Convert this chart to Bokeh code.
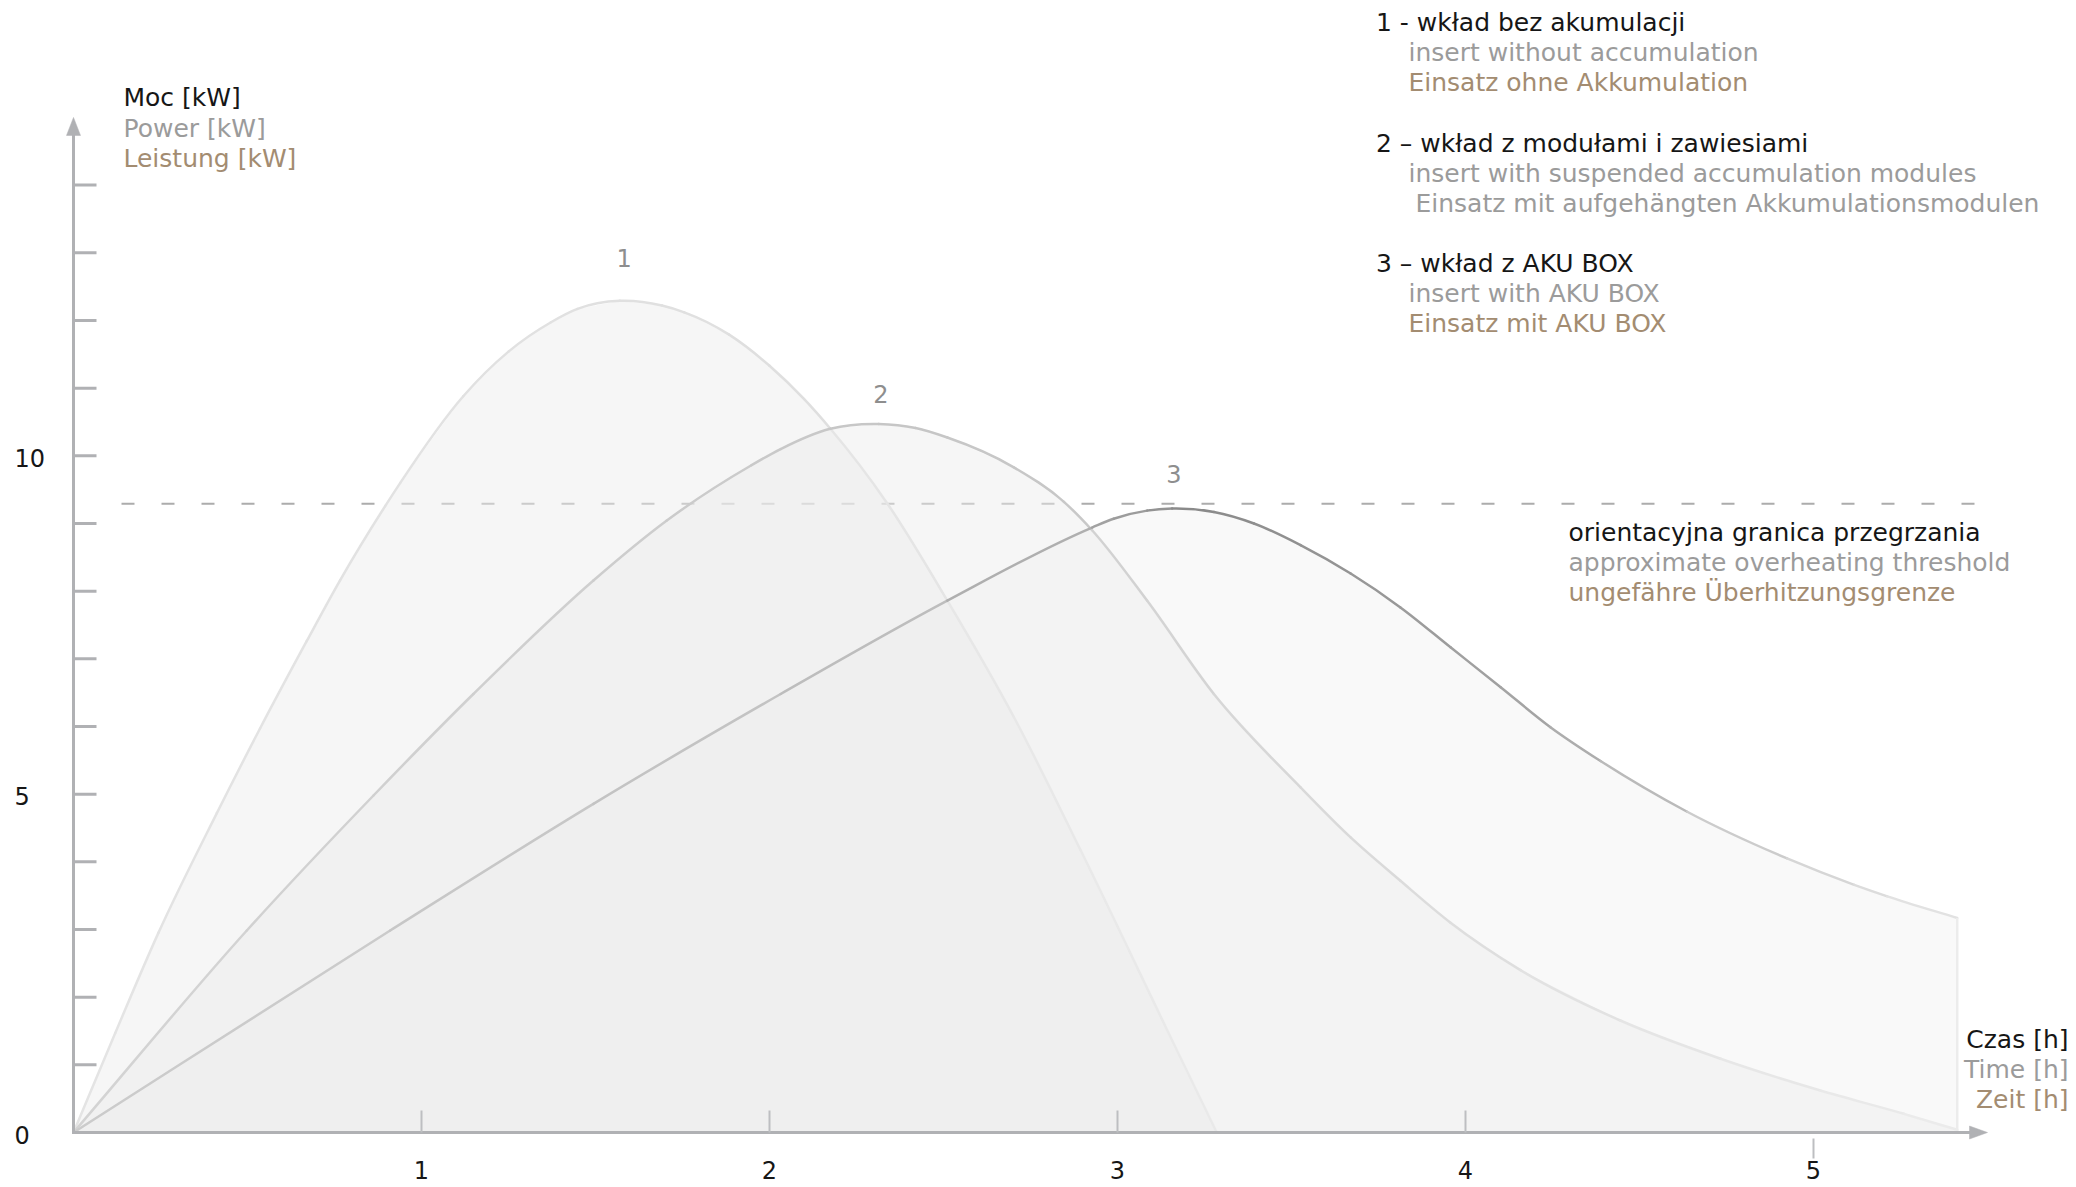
import numpy as np
from bokeh.plotting import figure
from bokeh.models import Range1d, ColumnDataSource
from bokeh.core.properties import value
from bokeh.embed import file_html
from bokeh.resources import INLINE

# ---------------- data ----------------
# 1 - insert without accumulation
time_1 = [0, 0.12, 0.244, 0.412, 0.536, 0.670, 0.766, 0.896, 0.939, 1.12, 1.25, 1.371,
          1.448, 1.570, 1.691, 1.755, 1.884, 2.0, 2.099, 2.175, 2.338, 2.511, 2.702,
          2.894, 3.157, 3.285]
power_1 = [0, 1.47, 2.95, 4.72, 5.97, 7.26, 8.16, 9.26, 9.6, 10.88, 11.54, 11.97,
           12.17, 12.29, 12.22, 12.12, 11.79, 11.33, 10.84, 10.40, 9.30, 7.86, 6.14,
           4.17, 1.36, 0]
# 2 - insert with suspended accumulation modules
time_2 = [0, 0.498, 0.862, 1.149, 1.494, 1.704, 1.948, 2.032, 2.175, 2.314, 2.42, 2.511,
          2.702, 2.846, 2.927, 3.085, 3.277, 3.526, 3.670, 3.813, 3.957, 4.158, 4.445,
          4.733, 5.020, 5.26, 5.413]
power_2 = [0, 2.985, 4.98, 6.48, 8.157, 9.04, 9.86, 10.10, 10.40, 10.47, 10.41, 10.27,
           9.83, 9.32, 8.90, 7.86, 6.48, 5.10, 4.36, 3.72, 3.10, 2.40, 1.655,
           1.09, 0.62, 0.276, 0.04]
# 3 - insert with AKU BOX
time_3 = [0, 0.910, 1.494, 2.032, 2.511, 2.927, 2.989, 3.085, 3.157, 3.277, 3.392, 3.526,
          3.670, 3.813, 3.957, 4.101, 4.244, 4.388, 4.637, 4.924, 5.117, 5.212, 5.413]
power_3 = [0, 2.985, 4.857, 6.48, 7.86, 8.94, 9.07, 9.19, 9.22, 9.17, 9.0, 8.68,
           8.26, 7.76, 7.17, 6.58, 5.99, 5.49, 4.74, 4.05, 3.66, 3.49, 3.17]

overheating_threshold = 9.29
y_axis_max = 15
x_axis_max = 5.5
y_tick_values = list(range(1, 15))
y_label_values = [0, 5, 10]
y_label_texts = ["0", "5", "10"]
x_tick_values = [1, 2, 3, 4, 5]
x_tick_texts = ["1", "2", "3", "4", "5"]
curve_names = ["1", "2", "3"]

y_title = ["Moc [kW]", "Power [kW]", "Leistung [kW]"]
x_title = ["Czas [h]", "Time [h]", "Zeit [h]"]
threshold_text = ["orientacyjna granica przegrzania",
                  "approximate overheating threshold",
                  "ungefähre Überhitzungsgrenze"]
legend_texts = ["1 - wkład bez akumulacji", "insert without accumulation",
                "Einsatz ohne Akkumulation",
                "2 – wkład z modułami i zawiesiami",
                "insert with suspended accumulation modules",
                "Einsatz mit aufgehängten Akkumulationsmodulen",
                "3 – wkład z AKU BOX", "insert with AKU BOX", "Einsatz mit AKU BOX"]

# ---------------- layout ----------------
X0, SX, Y0, SY = 73.0, 348.0, 1132.0, 67.67   # page px of origin, px per unit
W, H = 2074, 1185
TEXT_SHIFT = -8   # px correction for text baselines


def dx(px):
    return (px - X0) / SX


def dy(py):
    return (Y0 - py) / SY


def ty(py):
    return dy(py + TEXT_SHIFT)


BLACK = "#161616"
GRAY = "#9b9b9b"
BROWN = "#a38c71"
AXIS = "#b0b1b4"
FONT = value("DejaVu Sans")
FS = value("25px")

p = figure(width=W, height=H, x_range=Range1d(dx(0), dx(W)),
           y_range=Range1d(dy(H), dy(0)), output_backend="svg",
           toolbar_location=None, x_axis_type=None, y_axis_type=None,
           min_border=0, outline_line_color=None)
p.background_fill_color = "white"
p.border_fill_color = "white"

# overheating threshold (under the fills)
p.line(x=[dx(121), dx(1978)], y=[overheating_threshold] * 2, line_color="#acacac",
       line_width=2, line_dash="13 27")


def smooth_line(xs, ys, stops_x, stops_g, width):
    """Cubic Hermite curve through the read points, drawn with Bokeh's bezier glyph."""
    xs = np.asarray(xs, float)
    ys = np.asarray(ys, float)
    h = np.diff(xs)
    d = np.diff(ys) / h
    m = np.empty_like(xs)
    m[0], m[-1] = d[0], d[-1]
    m[1:-1] = (h[1:] * d[:-1] + h[:-1] * d[1:]) / (h[:-1] + h[1:])
    cx0 = xs[:-1] + h / 3
    cy0 = ys[:-1] + m[:-1] * h / 3
    cx1 = xs[1:] - h / 3
    cy1 = ys[1:] - m[1:] * h / 3
    mid = (xs[:-1] + xs[1:]) / 2
    g = np.interp(mid, stops_x, stops_g).round().astype(int)
    cols = ["#%02x%02x%02x" % (v, v, v) for v in g]
    p.bezier(x0=xs[:-1], y0=ys[:-1], x1=xs[1:], y1=ys[1:], cx0=cx0, cy0=cy0,
             cx1=cx1, cy1=cy1, line_color=cols, line_width=width, line_cap="round")


FILL = "#ececec"
p.varea(x=time_1, y1=0, y2=power_1, fill_color=FILL, fill_alpha=0.48)
smooth_line(time_1, power_1, [0, 2.5, 3.3], [228, 222, 232], 2.5)
p.varea(x=time_2, y1=0, y2=power_2, fill_color=FILL, fill_alpha=0.48)
smooth_line(time_2, power_2, [0, 1.5, 2.3, 3.0, 3.8, 4.5, 5.4],
            [212, 206, 198, 200, 212, 226, 236], 2.5)
p.varea(x=time_3, y1=0, y2=power_3, fill_color=FILL, fill_alpha=0.3)
smooth_line(time_3, power_3, [0, 1.5, 2.5, 3.0, 3.2, 3.6, 4.2, 4.8, 5.4],
            [205, 198, 186, 160, 138, 148, 165, 205, 230], 2.5)
p.segment(x0=[time_3[-1]], y0=[power_3[-1]], x1=[time_3[-1]], y1=[0],
          line_color="#ececec", line_width=2.5)

# axes with arrows
p.segment(x0=[0, dx(71.5)], y0=[dy(1133.5), 0], x1=[0, x_axis_max - 10 / SX],
          y1=[y_axis_max - 10 / SY, 0], line_color=AXIS, line_width=3)
p.patches(xs=[[0, -7 / SX, 7 / SX], [x_axis_max, x_axis_max - 18 / SX, x_axis_max - 18 / SX]],
          ys=[[y_axis_max, y_axis_max - 18 / SY, y_axis_max - 18 / SY], [0, 6.5 / SY, -6.5 / SY]],
          fill_color=AXIS, line_color=AXIS, line_width=0.5)

# y ticks (inward) and x ticks (1-4 upward, 5 downward below the axis)
p.segment(x0=[0] * len(y_tick_values), y0=y_tick_values,
          x1=[23 / SX] * len(y_tick_values), y1=y_tick_values,
          line_color=AXIS, line_width=3)
up = x_tick_values[:-1]
p.segment(x0=up, y0=[0] * len(up), x1=up, y1=[22 / SY] * len(up),
          line_color="#bdbec1", line_width=2)
p.segment(x0=x_tick_values[-1:], y0=[-6 / SY], x1=x_tick_values[-1:], y1=[-26 / SY],
          line_color="#bdbec1", line_width=2)

# tick labels
p.text(x=[dx(14)] * 3, y=y_label_values, text=y_label_texts, text_font=FONT,
       text_font_size=value("24px"), text_color=BLACK, text_align="left",
       text_baseline="alphabetic", y_offset=10 + TEXT_SHIFT)
p.text(x=x_tick_values, y=[ty(1177)] * 5, text=x_tick_texts, text_font=FONT,
       text_font_size=value("24px"), text_color=BLACK, text_align="center",
       text_baseline="alphabetic")

# curve numbers
p.text(x=[dx(623.7), dx(880.4), dx(1173.3)], y=[ty(265), ty(401), ty(481)],
       text=curve_names, text_font=FONT, text_font_size=value("24px"),
       text_color="#8e8e8e", text_align="center", text_baseline="alphabetic")


def text_block(texts, xs, ys, colors, align="left"):
    src = ColumnDataSource(dict(x=[dx(v) for v in xs], y=[ty(v) for v in ys],
                                t=texts, c=colors))
    p.text(x="x", y="y", text="t", text_color="c", source=src, text_font=FONT,
           text_font_size=FS, text_align=align, text_baseline="alphabetic")


tri = [BLACK, GRAY, BROWN]
text_block(y_title, [123] * 3, [105, 135.5, 166], tri)
text_block(threshold_text, [1568] * 3, [540, 570, 599.5], tri)
text_block(x_title, [2068] * 3, [1046.7, 1076.7, 1107.3], tri, align="right")
text_block(legend_texts,
           [1375.5, 1408, 1408, 1375.5, 1408, 1415, 1375.5, 1408, 1408],
           [29.5, 60, 90, 150.5, 180.5, 211, 270.5, 300.5, 330.5],
           [BLACK, GRAY, BROWN, BLACK, GRAY, GRAY, BLACK, GRAY, BROWN])

open("out.html", "w").write(file_html(p, INLINE))
